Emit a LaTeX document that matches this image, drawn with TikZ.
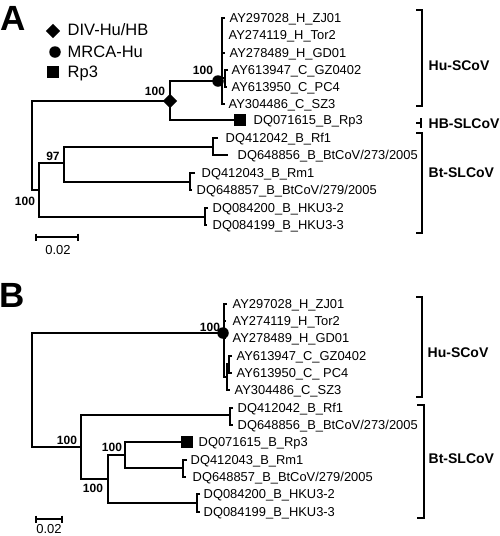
\documentclass[tikz,border=0pt]{standalone}
\usepackage{fontspec}
\setmainfont{Liberation Sans}
\usetikzlibrary{shapes.geometric}
\begin{document}
\begin{tikzpicture}[x=1pt,y=-1pt,line width=1.4pt,
  leaf/.style={anchor=base west,inner sep=0pt,yshift=-4.7pt,font=\fontsize{12.9}{14}\selectfont},
  boot/.style={inner sep=0pt,font=\bfseries\fontsize{12}{13}\selectfont},
  clade/.style={anchor=base west,inner sep=0pt,yshift=-5pt,font=\bfseries\fontsize{14}{15}\selectfont},
  legtext/.style={anchor=base west,inner sep=0pt,yshift=-5.9pt,font=\fontsize{16.5}{18}\selectfont},
  panel/.style={inner sep=0pt,font=\bfseries\fontsize{35}{36}\selectfont},
  scaletext/.style={inner sep=0pt,font=\fontsize{13}{14}\selectfont},
  dia/.style={diamond,fill=black,minimum size=15pt,inner sep=0pt},
  dot/.style={circle,fill=black,minimum size=11.5pt,inner sep=0pt},
  sq/.style={rectangle,fill=black,minimum size=12pt,inner sep=0pt},
  brk/.style={line width=1.3pt}]
\useasboundingbox (0,0) rectangle (500,536);

% ---------------- Panel A ----------------
\node[panel] (labA) at (13.5,18) {A};
\node[dia] (legdia) at (53,31) {};
\node[legtext] (legt1) at (67,30) {DIV-Hu/HB};
\node[dot] (legdot) at (55,52) {};
\node[legtext] (legt2) at (67,52) {MRCA-Hu};
\node[sq] (legsq) at (53,72) {};
\node[legtext] (legt3) at (67,72) {Rp3};

% internal coordinates
\coordinate (rootA) at (32,145);
\coordinate (divA) at (170,101);
\coordinate (mrcaA) at (218,81);
\coordinate (rp3A) at (240,120);
\coordinate (huA) at (222,81);
\coordinate (btA) at (39,190);
\coordinate (n97) at (64,163);
\coordinate (rf1A) at (213,147);
\coordinate (rm1A) at (190,182);
\coordinate (hkuA) at (205,217);
\coordinate (subA) at (225,78);

% tips
\coordinate (tA1) at (225,18);
\coordinate (tA2) at (223,35);
\coordinate (tA3) at (225,53);
\coordinate (tA4) at (228,70);
\coordinate (tA5) at (227,87);
\coordinate (tA6) at (225,104);
\coordinate (tA7) at (218,138);
\coordinate (tA8) at (228,155);
\coordinate (tA9) at (195,173);
\coordinate (tA10) at (192,190);
\coordinate (tA11) at (208,208);
\coordinate (tA12) at (207,225);

\draw (divA) -| (rootA) |- (btA);
\draw (mrcaA) -| (divA) |- (rp3A);
\draw (mrcaA) -- (huA);
\draw (tA1) -| (huA) |- (tA6);
\draw (huA) |- (tA2);
\draw (huA) |- (tA3);
\draw (huA) |- (subA);
\draw (tA4) -| (subA) |- (tA5);
\draw (n97) -| (btA) |- (hkuA);
\draw (rf1A) -| (n97) |- (rm1A);
\draw (tA7) -| (rf1A) |- (tA8);
\draw (tA9) -| (rm1A) |- (tA10);
\draw (tA11) -| (hkuA) |- (tA12);

\node[dia] at (divA) {};
\node[dot] at (mrcaA) {};
\node[sq] at (rp3A) {};

\node[leaf] (lA1) at (229,18) {AY297028\_H\_ZJ01};
\node[leaf] (lA2) at (228,35) {AY274119\_H\_Tor2};
\node[leaf] (lA3) at (229,53) {AY278489\_H\_GD01};
\node[leaf] (lA4) at (231,70) {AY613947\_C\_GZ0402};
\node[leaf] (lA5) at (231,87) {AY613950\_C\_PC4};
\node[leaf] (lA6) at (228,104) {AY304486\_C\_SZ3};
\node[leaf] (lArp) at (253,120) {DQ071615\_B\_Rp3};
\node[leaf] (lA7) at (225,138) {DQ412042\_B\_Rf1};
\node[leaf] (lA8) at (237,155) {DQ648856\_B\_BtCoV/273/2005};
\node[leaf] (lA9) at (201,173) {DQ412043\_B\_Rm1};
\node[leaf] (lA10) at (196,190) {DQ648857\_B\_BtCoV/279/2005};
\node[leaf] (lA11) at (212,208) {DQ084200\_B\_HKU3-2};
\node[leaf] (lA12) at (212,225) {DQ084199\_B\_HKU3-3};

\node[boot] (bA1) at (155,91) {100};
\node[boot] (bA2) at (203,70) {100};
\node[boot] (bA3) at (53,156) {97};
\node[boot] (bA4) at (25,201) {100};

% scale bar A
\coordinate (sA1) at (36,237);
\coordinate (sA2) at (78,237);
\draw[line width=1.2pt] (sA1) -- (sA2);
\draw[line width=1.2pt] ([yshift=3.5pt]sA1) -- ([yshift=-3.5pt]sA1);
\draw[line width=1.2pt] ([yshift=3.5pt]sA2) -- ([yshift=-3.5pt]sA2);
\node[scaletext] (sAt) at (58,250) {0.02};

% clade brackets A
\draw[brk] (416,10) -- (422,10) -- (422,106) -- (416,106);
\node[clade] (cA1) at (428,65) {Hu-SCoV};
\draw[brk] (416,123) -- (421,123);
\draw[brk] (421,118) -- (421,128);
\node[clade] (cA2) at (428,123) {HB-SLCoV};
\draw[brk] (416,133) -- (422,133) -- (422,233) -- (416,233);
\node[clade] (cA3) at (428,172) {Bt-SLCoV};

% ---------------- Panel B ----------------
\node[panel] (labB) at (12.5,295) {B};

\coordinate (rootB) at (32,390);
\coordinate (mrcaB) at (223,333);
\coordinate (huB) at (224,333);
\coordinate (btB) at (81,447);
\coordinate (rf1B) at (230,415);
\coordinate (n100b) at (108,479);
\coordinate (n100c) at (125,455);
\coordinate (rp3B) at (187,442);
\coordinate (rm1B) at (183,468);
\coordinate (hkuB) at (197,503);
\coordinate (subB) at (227,377);
\coordinate (pairB) at (229,364);

\coordinate (tB1) at (227,304);
\coordinate (tB2) at (226,321);
\coordinate (tB3) at (226,338);
\coordinate (tB4) at (232,356);
\coordinate (tB5) at (232,373);
\coordinate (tB6) at (230,390);
\coordinate (tB7) at (233,408);
\coordinate (tB8) at (233,425);
\coordinate (tB9) at (187,460);
\coordinate (tB10) at (186,477);
\coordinate (tB11) at (200,494);
\coordinate (tB12) at (200,512);

\draw (mrcaB) -| (rootB) |- (btB);
\draw (mrcaB) -- (huB);
\draw (tB1) -| (huB) |- (subB);
\draw (huB) |- (tB2);
\draw (huB) |- (tB3);
\draw (pairB) -| (subB) |- (tB6);
\draw (tB4) -| (pairB) |- (tB5);
\draw (rf1B) -| (btB) |- (n100b);
\draw (tB7) -| (rf1B) |- (tB8);
\draw (n100c) -| (n100b) |- (hkuB);
\draw (rp3B) -| (n100c) |- (rm1B);
\draw (tB9) -| (rm1B) |- (tB10);
\draw (tB11) -| (hkuB) |- (tB12);

\node[dot] at (mrcaB) {};
\node[sq] at (rp3B) {};

\node[leaf] (lB1) at (232,304) {AY297028\_H\_ZJ01};
\node[leaf] (lB2) at (232,321) {AY274119\_H\_Tor2};
\node[leaf] (lB3) at (232,338) {AY278489\_H\_GD01};
\node[leaf] (lB4) at (236,356) {AY613947\_C\_GZ0402};
\node[leaf] (lB5) at (236,373) {AY613950\_C\_ PC4};
\node[leaf] (lB6) at (234,390) {AY304486\_C\_SZ3};
\node[leaf] (lB7) at (237,408) {DQ412042\_B\_Rf1};
\node[leaf] (lB8) at (237,425) {DQ648856\_B\_BtCoV/273/2005};
\node[leaf] (lBrp) at (198,442) {DQ071615\_B\_Rp3};
\node[leaf] (lB9) at (190,460) {DQ412043\_B\_Rm1};
\node[leaf] (lB10) at (192,477) {DQ648857\_B\_BtCoV/279/2005};
\node[leaf] (lB11) at (203,494) {DQ084200\_B\_HKU3-2};
\node[leaf] (lB12) at (203,512) {DQ084199\_B\_HKU3-3};

\node[boot] (bB1) at (210,327) {100};
\node[boot] (bB2) at (67,440) {100};
\node[boot] (bB3) at (112,447) {100};
\node[boot] (bB4) at (93,488) {100};

% scale bar B
\coordinate (sB1) at (36,519);
\coordinate (sB2) at (62,519);
\draw[line width=1.2pt] (sB1) -- (sB2);
\draw[line width=1.2pt] ([yshift=3.5pt]sB1) -- ([yshift=-3.5pt]sB1);
\draw[line width=1.2pt] ([yshift=3.5pt]sB2) -- ([yshift=-3.5pt]sB2);
\node[scaletext] (sBt) at (49,529.5) {0.02};

% clade brackets B
\draw[brk] (416,297) -- (422,297) -- (422,397) -- (416,397);
\node[clade] (cB1) at (427,352) {Hu-SCoV};
\draw[brk] (417,405) -- (424,405) -- (424,518) -- (417,518);
\node[clade] (cB2) at (428,458) {Bt-SLCoV};

\end{tikzpicture}
\end{document}
